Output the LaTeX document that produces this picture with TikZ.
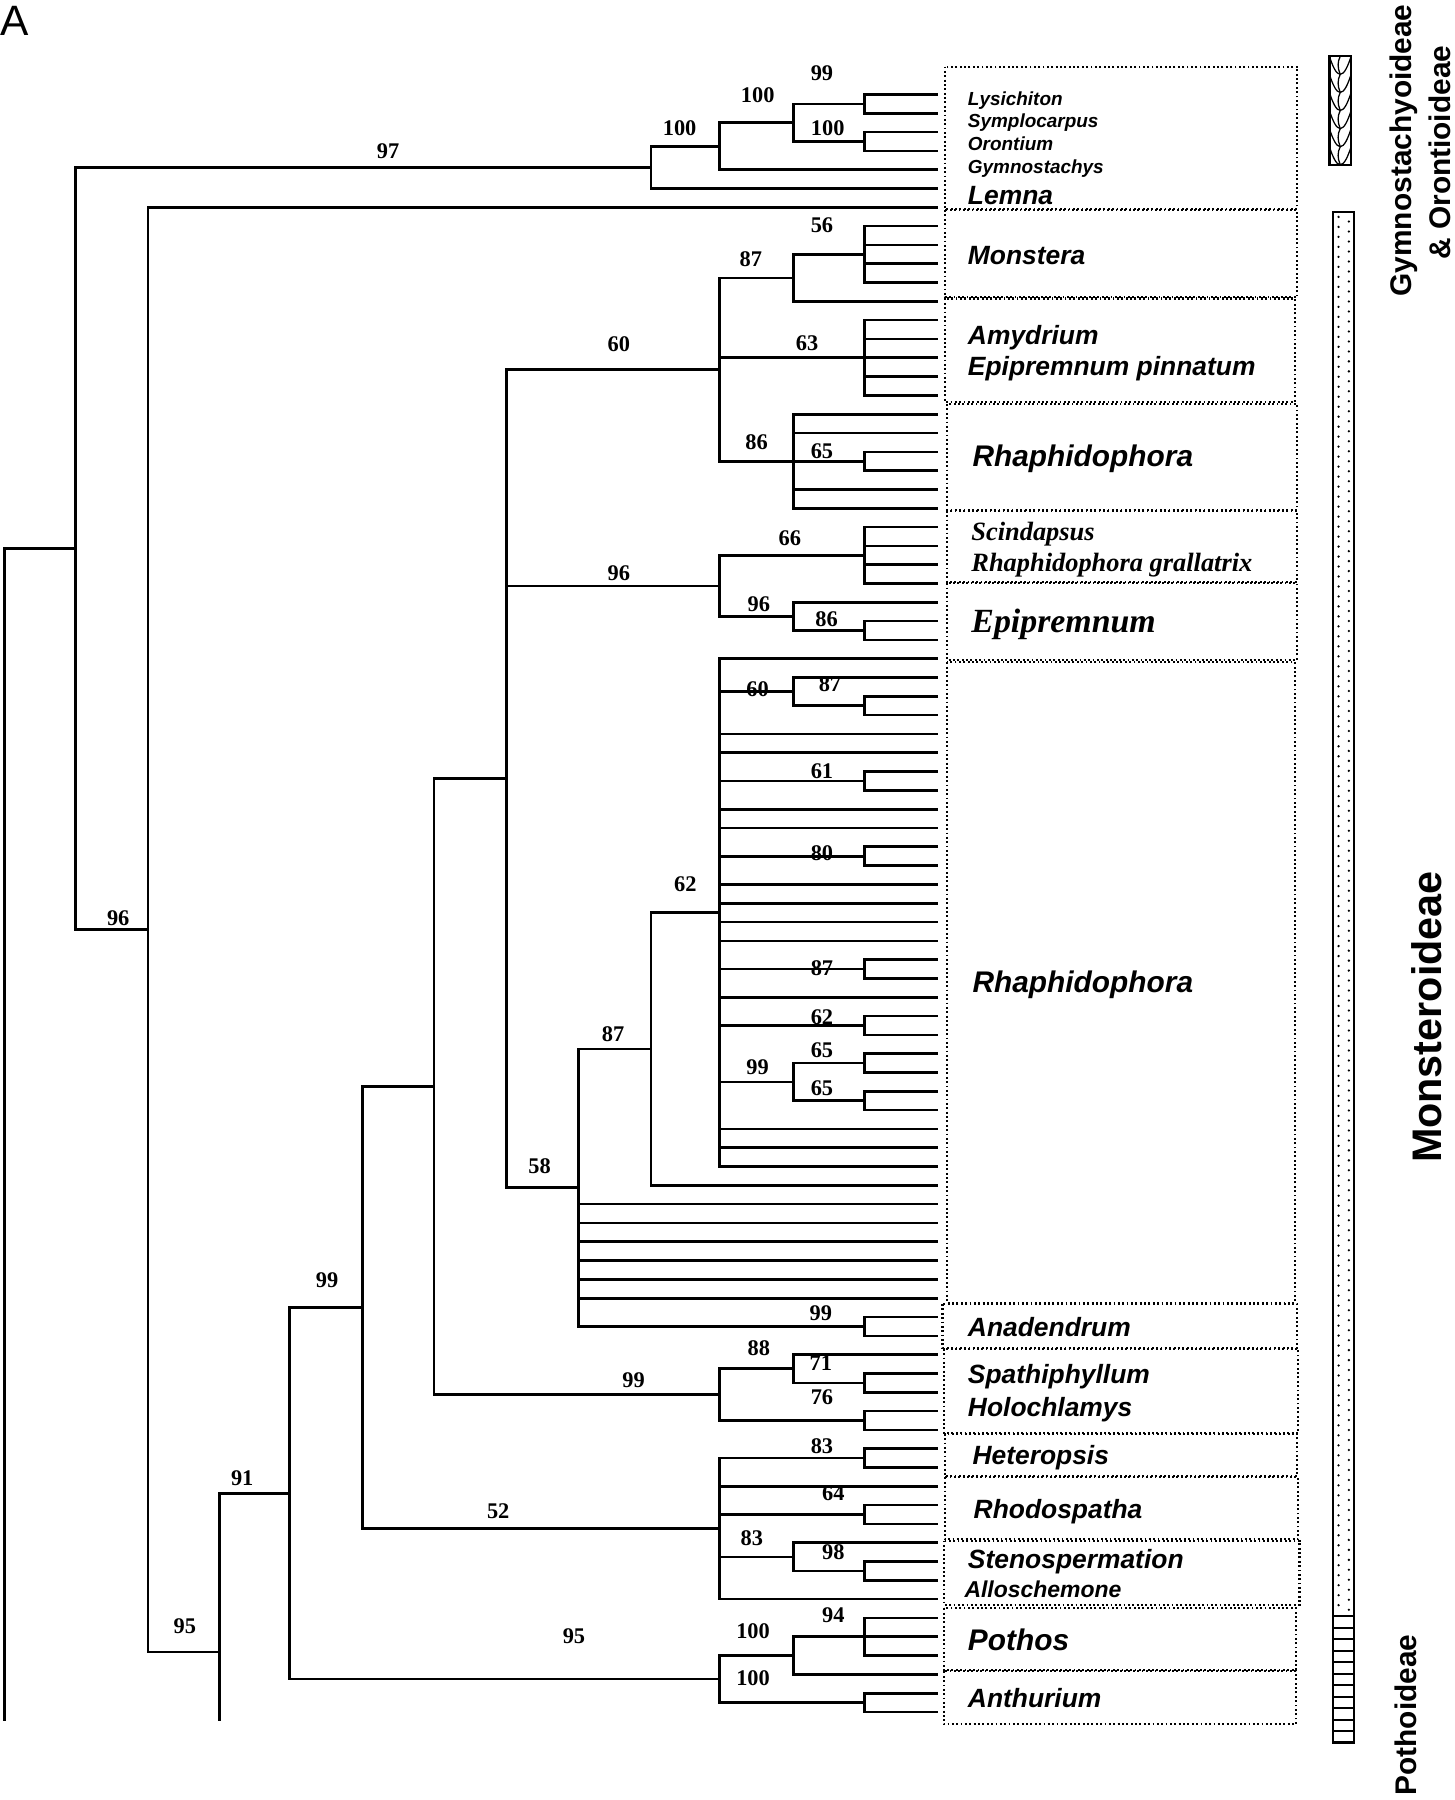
\documentclass[tikz,border=0pt]{standalone}
\usepackage{fontspec}
\setmainfont{Liberation Serif}
\newfontfamily\arialf{Liberation Sans}
\newcommand\Yv[1]{82.3+16.384*(#1)}
\begin{document}
\begin{tikzpicture}[x=1pt,y=-1pt,
 tree/.style={line width=2.3pt},
 bs/.style={inner sep=0pt, font=\bfseries\fontsize{19.5}{20}\selectfont},
 tx/.style={anchor=base west, inner sep=0pt, font=\arialf\bfseries\itshape\fontsize{23}{24}\selectfont},
 txs/.style={tx, font=\arialf\bfseries\itshape\fontsize{16.5}{17}\selectfont},
 txl/.style={tx, font=\arialf\bfseries\itshape\fontsize{26}{27}\selectfont},
 txt/.style={tx, font=\bfseries\itshape\fontsize{23}{24}\selectfont},
 dotbox/.style={line width=1.8pt, dash pattern=on 1.6pt off 2.2pt},
 bar/.style={line width=2pt},
 sub/.style={rotate=90, inner sep=0pt, font=\arialf\bfseries\fontsize{26}{27}\selectfont}]
\fill[white] (0,0) rectangle (1267,1568);
\useasboundingbox (0,0) rectangle (1267,1568);

% leaves
\foreach \i in {0,...,86} \coordinate (L\i) at (817,{\Yv{\i}});
% internal nodes
\coordinate (p99) at (753,{\Yv{0.5}});
\coordinate (p100b) at (753,{\Yv{2.5}});
\coordinate (p691t) at (691,{\Yv{1.5}});
\coordinate (p627t) at (627,{\Yv{2.75}});
\coordinate (p567) at (567,{\Yv{3.875}});
\coordinate (p56) at (753,{\Yv{8.5}});
\coordinate (p87a) at (691,{\Yv{9.75}});
\coordinate (p63) at (753,{\Yv{14}});
\coordinate (p65a) at (753,{\Yv{19.5}});
\coordinate (p86a) at (691,{\Yv{19.5}});
\coordinate (p60) at (627,{\Yv{14.625}});
\coordinate (p66) at (753,{\Yv{24.5}});
\coordinate (p86b) at (753,{\Yv{28.5}});
\coordinate (p96b) at (691,{\Yv{27.75}});
\coordinate (p96a) at (627,{\Yv{26.125}});
\coordinate (p87c) at (753,{\Yv{32.5}});
\coordinate (p60c) at (691,{\Yv{31.75}});
\coordinate (p61) at (753,{\Yv{36.5}});
\coordinate (p80) at (753,{\Yv{40.5}});
\coordinate (p87d) at (753,{\Yv{46.5}});
\coordinate (p62b) at (753,{\Yv{49.5}});
\coordinate (p65b) at (753,{\Yv{51.5}});
\coordinate (p65c) at (753,{\Yv{53.5}});
\coordinate (p99c) at (691,{\Yv{52.5}});
\coordinate (p62a) at (627,{\Yv{43.5}});
\coordinate (p87b) at (567,{\Yv{50.75}});
\coordinate (p99d) at (753,{\Yv{65.5}});
\coordinate (p58) at (504,{\Yv{58.125}});
\coordinate (p441) at (441,{\Yv{36.375}});
\coordinate (p71) at (753,{\Yv{68.5}});
\coordinate (p88) at (691,{\Yv{67.75}});
\coordinate (p76) at (753,{\Yv{70.5}});
\coordinate (p99e) at (627,{\Yv{69.125}});
\coordinate (p378) at (378,{\Yv{52.75}});
\coordinate (p83a) at (753,{\Yv{72.5}});
\coordinate (p64) at (753,{\Yv{75.5}});
\coordinate (p98) at (753,{\Yv{78.5}});
\coordinate (p83b) at (691,{\Yv{77.75}});
\coordinate (p52) at (627,{\Yv{76.25}});
\coordinate (p316) at (316,{\Yv{64.5}});
\coordinate (p94) at (753,{\Yv{82}});
\coordinate (p100c) at (691,{\Yv{83}});
\coordinate (p100d) at (753,{\Yv{85.5}});
\coordinate (p100e) at (627,{\Yv{84.25}});
\coordinate (p252) at (252,{\Yv{74.375}});
\coordinate (p191) at (191,1439);
\coordinate (p191bot) at (191,1499);
\coordinate (n129) at (129,809.8);
\coordinate (n66) at (66,477.8);
\coordinate (rootbot) at (4,1499);

% branches
\draw[tree] (rootbot) |- (n66);
\draw[tree] (p191bot) |- (p252);
\foreach \a/\b in {n66/p567,n66/n129,n129/L6,n129/p191,
 p567/p627t,p567/L5,p627t/p691t,p627t/L4,p691t/p99,p691t/p100b,
 p99/L0,p99/L1,p100b/L2,p100b/L3,
 p252/p316,p252/p100e,p316/p378,p316/p52,p378/p441,p378/p99e,
 p441/p60,p441/p96a,p441/p58,
 p60/p87a,p60/p63,p60/p86a,p87a/p56,p87a/L11,
 p56/L7,p56/L8,p56/L9,p56/L10,
 p63/L12,p63/L13,p63/L14,p63/L15,p63/L16,
 p86a/L17,p86a/L18,p86a/p65a,p86a/L21,p86a/L22,p65a/L19,p65a/L20,
 p96a/p66,p96a/p96b,p66/L23,p66/L24,p66/L25,p66/L26,
 p96b/L27,p96b/p86b,p86b/L28,p86b/L29,
 p58/p87b,p58/L59,p58/L60,p58/L61,p58/L62,p58/L63,p58/L64,p58/p99d,
 p99d/L65,p99d/L66,p87b/p62a,p87b/L58,
 p62a/L30,p62a/p60c,p62a/L34,p62a/L35,p62a/p61,p62a/L38,p62a/L39,
 p62a/p80,p62a/L42,p62a/L43,p62a/L44,p62a/L45,p62a/p87d,p62a/L48,
 p62a/p62b,p62a/p99c,p62a/L55,p62a/L56,p62a/L57,
 p60c/L31,p60c/p87c,p87c/L32,p87c/L33,p61/L36,p61/L37,p80/L40,p80/L41,
 p87d/L46,p87d/L47,p62b/L49,p62b/L50,p99c/p65b,p99c/p65c,
 p65b/L51,p65b/L52,p65c/L53,p65c/L54,
 p99e/p88,p99e/p76,p88/L67,p88/p71,p71/L68,p71/L69,p76/L70,p76/L71,
 p52/p83a,p52/L74,p52/p64,p52/p83b,p52/L80,p83a/L72,p83a/L73,
 p64/L75,p64/L76,p83b/L77,p83b/p98,p98/L78,p98/L79,
 p100e/p100c,p100e/p100d,p100c/p94,p100c/L84,
 p94/L81,p94/L82,p94/L83,p100d/L85,p100d/L86}
 \draw[tree] (\a) |- (\b);

% bootstrap values
\foreach \x/\y/\t [count=\n] in {
 716/64/99, 660/83/100, 592/112/100, 721/112/100, 338/131.5/97,
 716/196.5/56, 654/226/87, 539/300/60, 703/299/63, 659/385/86, 716/393/65,
 688/469/66, 539/499/96, 661/526/96, 720/539.5/86,
 660/600/60, 723/596/87, 716/672/61, 716/743/80, 597/770/62, 103/800/96,
 716/843/87, 716/886.5/62, 534/901/87, 716/915/65, 660/930/99, 716/947.5/65,
 470/1016/58, 285/1115/99, 715/1144/99, 661/1174/88, 715/1187.5/71,
 552/1202/99, 716/1217/76, 716/1259.5/83, 211/1288/91, 726/1301/64,
 434/1316.5/52, 655/1340/83, 726/1352.5/98, 726/1407/94, 161/1417/95,
 656/1421/100, 500/1425.5/95, 656/1462/100}
 \node[bs] (b\n) at (\x,\y) {\t};

% taxon boxes
\draw[dotbox] (823,58) rectangle (1130,182);
\draw[dotbox] (823,183) rectangle (1130,259);
\draw[dotbox] (823,260) rectangle (1128,350);
\draw[dotbox] (825,352) rectangle (1130,444);
\draw[dotbox] (825,445) rectangle (1130,507);
\draw[dotbox] (825,508) rectangle (1130,575);
\draw[dotbox] (825,577) rectangle (1128,1135);
\draw[dotbox] (821,1136) rectangle (1130,1174);
\draw[dotbox] (822,1175) rectangle (1131,1248);
\draw[dotbox] (823,1249) rectangle (1130,1286);
\draw[dotbox] (823,1287) rectangle (1131,1341);
\draw[dotbox] (822,1342) rectangle (1132,1398);
\draw[dotbox] (822,1401) rectangle (1129,1455);
\draw[dotbox] (822,1456) rectangle (1129,1502);

% taxon names
\node[txs] (t1) at (843,92) {Lysichiton};
\node[txs] (t2) at (843,111.5) {Symplocarpus};
\node[txs] (t3) at (843,131) {Orontium};
\node[txs] (t4) at (843,151) {Gymnostachys};
\node[tx] (t5) at (843,178) {Lemna};
\node[tx] (t6) at (843,230.5) {Monstera};
\node[tx] (t7) at (843,300) {Amydrium};
\node[tx] (t8) at (843,327.5) {Epipremnum pinnatum};
\node[txl] (t9) at (847,406.5) {Rhaphidophora};
\node[txt] (t10) at (846,470.5) {Scindapsus};
\node[txt] (t11) at (846,498) {Rhaphidophora grallatrix};
\node[txt, font=\bfseries\itshape\fontsize{29.5}{30}\selectfont] (t12) at (846,551) {Epipremnum};
\node[txl] (t13) at (847,865) {Rhaphidophora};
\node[tx] (t14) at (843,1164) {Anadendrum};
\node[tx] (t15) at (843,1205.5) {Spathiphyllum};
\node[tx] (t16) at (843,1233.5) {Holochlamys};
\node[tx] (t17) at (847,1275.5) {Heteropsis};
\node[tx] (t18) at (848,1322.5) {Rhodospatha};
\node[tx] (t19) at (843,1366.5) {Stenospermation};
\node[tx, font=\arialf\bfseries\itshape\fontsize{20}{21}\selectfont] (t20) at (840,1391.5) {Alloschemone};
\node[txl] (t21) at (843,1438) {Pothos};
\node[tx] (t22) at (843,1487) {Anthurium};

% subfamily bars
\draw[bar] (1158,49) rectangle (1177,143.5);
\foreach \k in {0,...,5}{
 \pgfmathsetmacro\ya{49+15.75*\k}
 \draw[line width=1.1pt] (1158,\ya) .. controls (1161,{\ya+9}) and (1164,{\ya+15.75}) .. (1167.5,{\ya+15.75}) .. controls (1171,{\ya+15.75}) and (1174,{\ya+9}) .. (1177,\ya);
 \draw[line width=1.1pt] (1167.5,{\ya+15.75}) .. controls (1165,{\ya+10}) and (1165,{\ya+5}) .. (1167.5,\ya);
}
\draw[bar] (1161,184.5) rectangle (1179.5,1408);
\foreach \k in {0,...,139}{
 \fill (1166,{189+8.7*\k}) circle (1.1pt);
 \fill (1175,{193+8.7*\k}) circle (1.1pt);
}
\draw[bar] (1161,1408) rectangle (1179.5,1518);
\foreach \k in {1,...,10} \draw[line width=1.6pt] (1161,{1408+10*\k}) -- (1179.5,{1408+10*\k});

% subfamily names
\node[sub] (s1) at (1223,131) {Gymnostachyoideae};
\node[sub] (s2) at (1254,133) {\& Orontioideae};
\node[sub, font=\arialf\bfseries\fontsize{36}{37}\selectfont] (s3) at (1243,886) {Monsteroideae};
\node[sub] (s4) at (1225,1494) {Pothoideae};

% panel letter
\node[anchor=base west, inner sep=0pt, font=\arialf\fontsize{37}{37}\selectfont] (pa) at (0,31) {A};
\end{tikzpicture}
\end{document}
